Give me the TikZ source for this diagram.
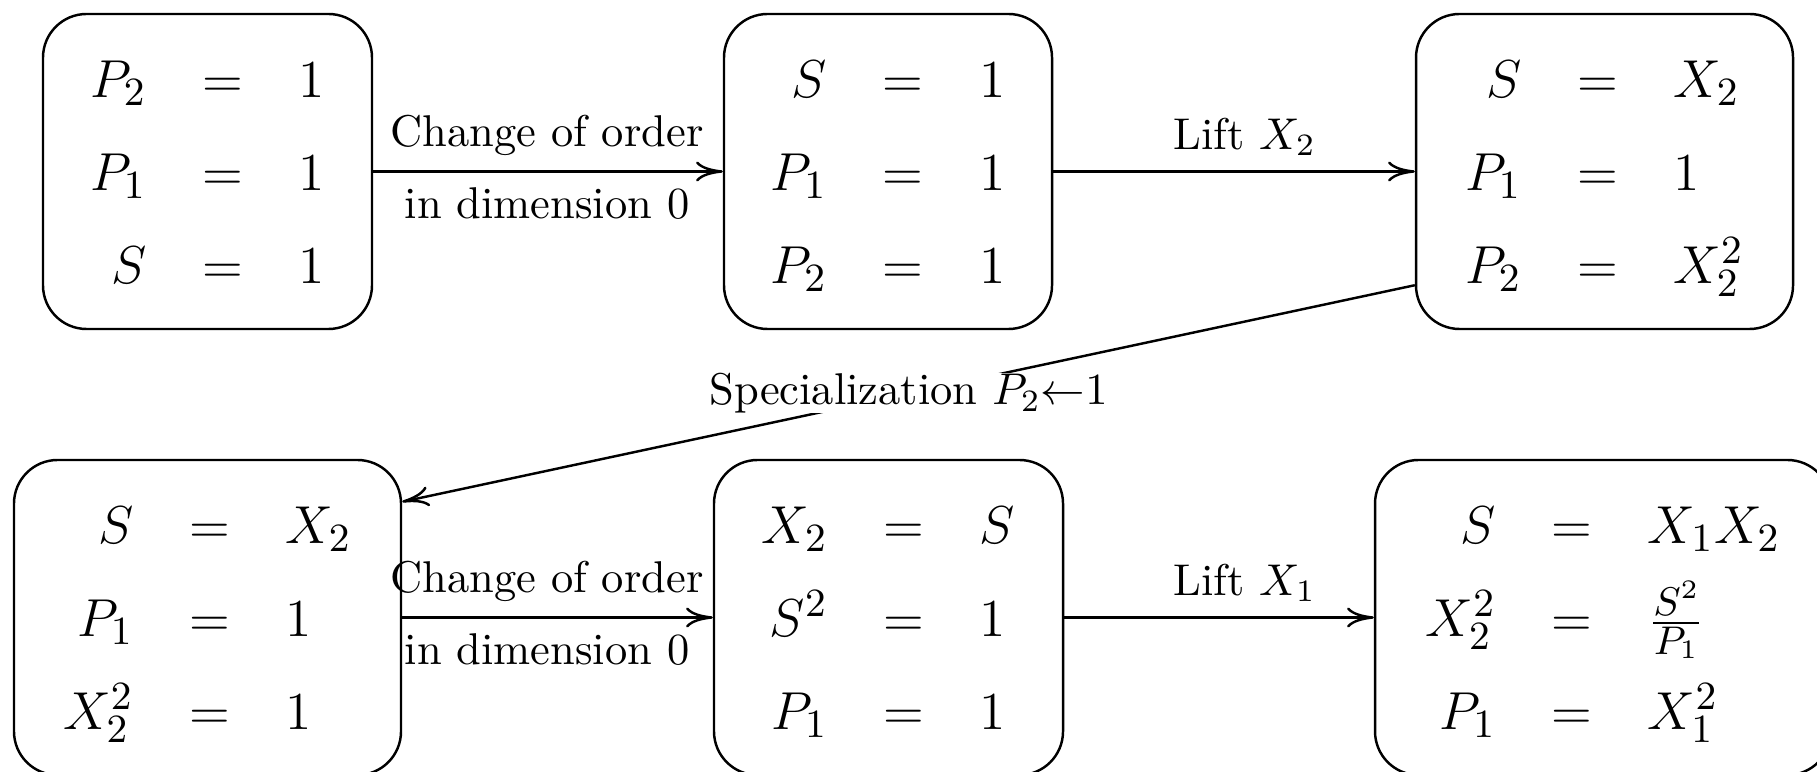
\documentclass[tikz,border=0pt]{standalone}
\usetikzlibrary{arrows.meta,calc}
\renewcommand{\arraystretch}{1.493}
\newcommand{\eqbox}[1]{$\begin{array}{@{}r@{\hspace{12.5pt}}c@{\hspace{12.5pt}}l@{}}#1\end{array}$}
\begin{document}
\begin{tikzpicture}[x=0.22472pt,y=-0.22472pt,
  box/.style={draw, line width=0.55pt, rounded corners=9.8pt, minimum height=70.79pt, inner sep=0pt, font=\fontsize{12.5}{14}\selectfont},
  arr/.style={line width=0.55pt, -{Computer Modern Rightarrow[length=6pt,width=4.5pt]}},
  lab/.style={font=\normalsize, inner sep=3.33pt}]
\useasboundingbox (0,0) rectangle (1817,772);
\clip (0,0) rectangle (1817,772);
% top row
\node[box, minimum width=73.93pt] (b1) at (207.5,171.5) {\eqbox{P_2 & = & 1\\ P_1 & = & 1\\ S & = & 1}};
\node[box, minimum width=73.71pt] (b2) at (888,171.5) {\eqbox{S & = & 1\\ P_1 & = & 1\\ P_2 & = & 1}};
\node[box, minimum width=84.72pt] (b3) at (1604.5,171.5) {\eqbox{S & = & X_2\\ P_1 & = & 1\\ P_2 & = & X_2^2}};
% bottom row
\node[box, minimum width=86.97pt] (b4) at (207.5,617.5) {\eqbox{S & = & X_2\\ P_1 & = & 1\\ X_2^2 & = & 1}};
\node[box, minimum width=78.43pt] (b5) at (888.5,617.5) {\eqbox{X_2 & = & S\\ S^2 & = & 1\\ P_1 & = & 1}};
\node[box, minimum width=102.47pt] (b6) at (1603,617.5) {\eqbox{S & = & X_1X_2\\ X_2^2 & = & \frac{S^2}{P_1}\\ P_1 & = & X_1^2}};
% arrows top row
\draw[arr] (b1) -- (b2);
\draw[arr] (b2) -- (b3);
\node[lab, anchor=south] (t1) at (547,171.5) {Change of order};
\node[lab, anchor=north] (t2) at (547,171.5) {in dimension 0};
\node[lab, anchor=south] (t3) at (1244.6,171.5) {Lift $X_2$};
% specialization
\coordinate (s0) at ($(b3.south west)+(0,-45)$);
\coordinate (s1) at ($(b4.north east)+(0,43)$);
\draw[arr] (s0) -- node[lab, fill=white, inner sep=0pt] (t4) {Specialization $P_2{\leftarrow}1$} (s1);
% arrows bottom row
\draw[arr] (b4) -- (b5);
\draw[arr] (b5) -- (b6);
\node[lab, anchor=south] (t5) at (547,617.5) {Change of order};
\node[lab, anchor=north] (t6) at (547,617.5) {in dimension 0};
\node[lab, anchor=south] (t7) at (1244.6,617.5) {Lift $X_1$};
\end{tikzpicture}
\end{document}
